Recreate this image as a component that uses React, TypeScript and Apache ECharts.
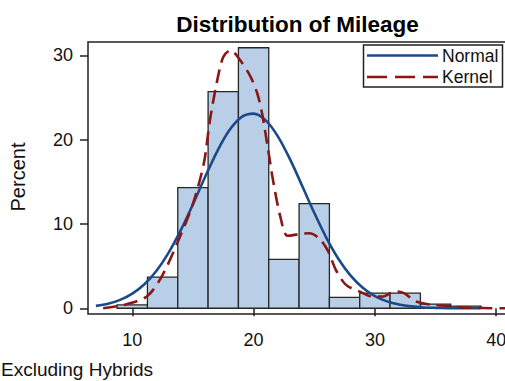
import React, { useEffect, useRef } from "react";
import * as echarts from "echarts";

// ---- data ----
const BIN_WIDTH = 2.5;
const binCenters = [10, 12.5, 15, 17.5, 20, 22.5, 25, 27.5, 30, 32.5, 35, 37.5];
const binPercents = [0.4, 3.7, 14.3, 25.7, 30.9, 5.8, 12.4, 1.3, 1.8, 1.8, 0.5, 0.25];

const normalX = [7, 8, 9, 10, 11, 12, 13, 14, 15, 16, 17, 18, 19, 20, 21, 22, 23, 24, 25, 26, 27, 28, 29, 30, 31, 32, 33, 34, 35, 36, 37, 38, 38.7];
const normalY = [0.28, 0.54, 0.99, 1.73, 2.85, 4.45, 6.6, 9.26, 12.33, 15.56, 18.61, 21.1, 22.67, 23.08, 22.28, 20.39, 17.68, 14.53, 11.32, 8.36, 5.85, 3.88, 2.44, 1.45, 0.82, 0.44, 0.22, 0.1, 0.05, 0.02, 0.01, 0.0, 0.0];

const kernelX = [7.6, 9.3, 11.2, 12.4, 13.7, 15.0, 15.9, 16.4, 17.0, 17.5, 18.1, 18.7, 19.7, 20.3, 20.7, 21.2, 21.6, 22.2, 22.8, 23.8, 24.6, 25.4, 26.1, 26.8, 27.6, 28.7, 29.8, 30.7, 31.6, 32.4, 33.4, 34.8, 35.9, 37.2, 40.5, 41.5];
const kernelY = [0.0, 0.4, 1.4, 3.7, 7.7, 12.4, 17.2, 22.3, 27.0, 29.8, 30.6, 29.8, 27.6, 25.5, 23.1, 18.8, 15.2, 10.9, 8.6, 8.8, 8.9, 8.3, 6.9, 4.5, 2.8, 2.0, 1.4, 1.4, 2.0, 1.8, 0.8, 0.4, 0.3, 0.1, 0.0, 0.0];

const xTicks = [10, 20, 30, 40];
const yTicks = [0, 10, 20, 30];

const TITLE = "Distribution of Mileage";
const Y_TITLE = "Percent";
const FOOTNOTE = "Excluding Hybrids";
const LEGEND = ["Normal", "Kernel"];

const FONT = "'Liberation Sans', Arial, Helvetica, sans-serif";
const BAR_FILL = "#B9CFE8";
const BAR_EDGE = "#262626";
const NORMAL_COLOR = "#1B4A8A";
const KERNEL_COLOR = "#8A1616";
const FRAME = "#222222";

export default function App() {
  const ref = useRef<HTMLDivElement>(null);

  useEffect(() => {
    if (!ref.current) return;
    const chart = echarts.init(ref.current, undefined, { renderer: "svg" });

    const option: any = {
      animation: false,
      backgroundColor: "#ffffff",
      textStyle: { fontFamily: FONT },
      grid: {
        left: 88,
        top: 42,
        width: 419,
        height: 272,
        show: true,
        borderColor: FRAME,
        borderWidth: 1.5,
        backgroundColor: "transparent",
        containLabel: false,
        outerBoundsMode: "none",
      },
      xAxis: {
        type: "value",
        min: 6.35,
        max: 40.89,
        axisLine: { show: false },
        splitLine: { show: false },
        axisTick: {
          show: true,
          length: 8,
          customValues: xTicks,
          lineStyle: { color: FRAME, width: 1.5 },
        },
        axisLabel: {
          customValues: xTicks,
          margin: 17,
          fontSize: 18,
          color: "#111",
          fontFamily: FONT,
          hideOverlap: false,
        },
      },
      yAxis: {
        type: "value",
        min: -0.68,
        max: 31.58,
        axisLine: { show: false },
        splitLine: { show: false },
        axisTick: {
          show: true,
          length: 8,
          customValues: yTicks,
          lineStyle: { color: FRAME, width: 1.5 },
        },
        axisLabel: {
          customValues: yTicks,
          margin: 15,
          fontSize: 18,
          color: "#111",
          fontFamily: FONT,
        },
      },
      series: [
        {
          type: "custom",
          name: "Histogram",
          data: binCenters.map((c, i) => [c, binPercents[i]]),
          encode: { x: 0, y: 1 },
          clip: true,
          renderItem: (params: any, api: any) => {
            const c = api.value(0);
            const h = api.value(1);
            const p1 = api.coord([c - BIN_WIDTH / 2, h]);
            const p2 = api.coord([c + BIN_WIDTH / 2, 0]);
            return {
              type: "rect",
              shape: { x: p1[0], y: p1[1], width: p2[0] - p1[0], height: p2[1] - p1[1] },
              style: { fill: BAR_FILL, stroke: BAR_EDGE, lineWidth: 1.3 },
            };
          },
          z: 1,
        },
        {
          type: "line",
          name: LEGEND[0],
          data: normalX.map((x, i) => [x, normalY[i]]),
          smooth: 0.3,
          showSymbol: false,
          symbol: "none",
          clip: true,
          lineStyle: { color: NORMAL_COLOR, width: 2.6 },
          z: 3,
        },
        {
          type: "line",
          name: LEGEND[1],
          data: kernelX.map((x, i) => [x, kernelY[i]]),
          smooth: 0.3,
          showSymbol: false,
          symbol: "none",
          clip: true,
          lineStyle: { color: KERNEL_COLOR, width: 2.6, type: [14, 7] },
          z: 4,
        },
      ],
      graphic: [
        {
          type: "text",
          x: 297.5,
          y: 24,
          style: {
            text: TITLE,
            fontSize: 22.5,
            fontWeight: "bold",
            fontFamily: FONT,
            fill: "#000",
            align: "center",
            verticalAlign: "middle",
          },
        },
        {
          type: "text",
          x: 17.5,
          y: 177,
          rotation: Math.PI / 2,
          style: {
            text: Y_TITLE,
            fontSize: 20,
            fontFamily: FONT,
            fill: "#111",
            align: "center",
            verticalAlign: "middle",
          },
        },
        {
          type: "text",
          x: 1,
          y: 369.5,
          style: {
            text: FOOTNOTE,
            fontSize: 19,
            fontFamily: FONT,
            fill: "#111",
            align: "left",
            verticalAlign: "middle",
          },
        },
        {
          type: "group",
          z: 100,
          children: [
            {
              type: "rect",
              shape: { x: 363.5, y: 45, width: 139, height: 42 },
              style: { fill: "#ffffff", stroke: FRAME, lineWidth: 1.5 },
            },
            {
              type: "line",
              shape: { x1: 367, y1: 55.5, x2: 438, y2: 55.5 },
              style: { stroke: NORMAL_COLOR, lineWidth: 2.6 },
            },
            {
              type: "line",
              shape: { x1: 367, y1: 77, x2: 438, y2: 77 },
              style: { stroke: KERNEL_COLOR, lineWidth: 2.6, lineDash: [20, 8] },
            },
            {
              type: "text",
              x: 442,
              y: 56,
              style: {
                text: LEGEND[0],
                fontSize: 17.5,
                fontFamily: FONT,
                fill: "#111",
                align: "left",
                verticalAlign: "middle",
              },
            },
            {
              type: "text",
              x: 442,
              y: 77,
              style: {
                text: LEGEND[1],
                fontSize: 17.5,
                fontFamily: FONT,
                fill: "#111",
                align: "left",
                verticalAlign: "middle",
              },
            },
          ],
        },
      ],
    };

    chart.setOption(option);
    return () => chart.dispose();
  }, []);

  return (
    <div
      ref={ref}
      style={{ position: "fixed", left: 0, top: 0, width: 505, height: 381, background: "#fff" }}
    />
  );
}
